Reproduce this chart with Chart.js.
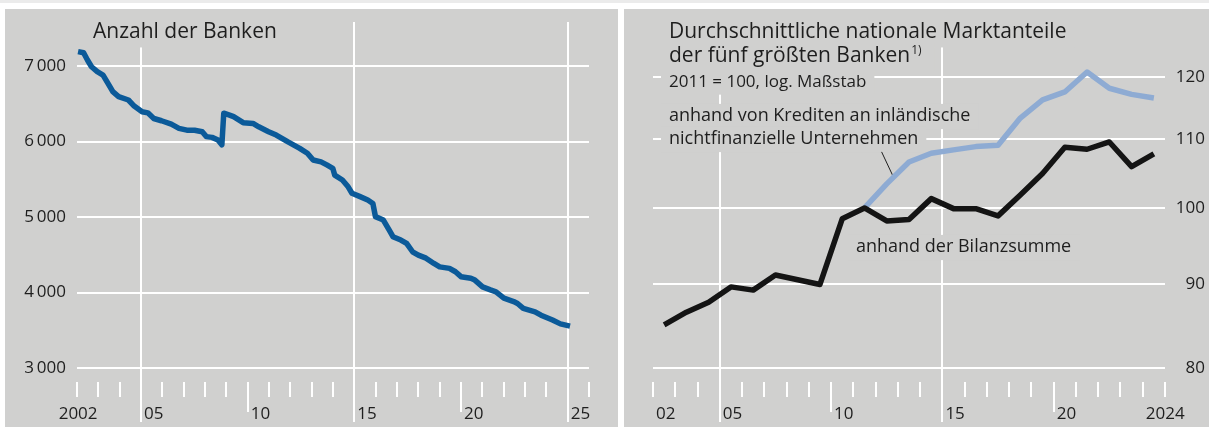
<!DOCTYPE html>
<html>
<head>
<meta charset="utf-8">
<script src="https://cdn.jsdelivr.net/npm/chart.js@4.4.1/dist/chart.umd.min.js"></script>
<style>
  body { margin: 0; background: #fff; width: 1209px; height: 427px; position: relative; overflow: hidden; }
  #strip { position: absolute; left: 0; top: 0; width: 1209px; height: 3px; background: #ebebeb; }
  .panel { position: absolute; top: 9px; height: 418px; background: #d0d0cf; }
  #panelLeft { left: 5px; width: 613px; }
  #panelRight { left: 624px; width: 585px; }
  canvas { position: absolute; left: 0; top: 0; }
</style>
</head>
<body>
<div id="strip"></div>
<div class="panel" id="panelLeft"><canvas id="chartBanks" width="613" height="418"></canvas></div>
<div class="panel" id="panelRight"><canvas id="chartShares" width="585" height="418"></canvas></div>

<script>
// Anzahl der Banken
const bankYears = [2002.05, 2002.31, 2002.49, 2002.68, 2002.95, 2003.22, 2003.41, 2003.68, 2003.95, 2004.41,
  2004.68, 2005.05, 2005.32, 2005.60, 2005.96, 2006.42, 2006.78, 2007.15, 2007.51, 2007.87,
  2008.06, 2008.33, 2008.61, 2008.79, 2008.88, 2009.15, 2009.34, 2009.79, 2010.25, 2010.52,
  2010.98, 2011.34, 2011.89, 2012.44, 2012.80, 2013.07, 2013.44, 2013.71, 2013.99, 2014.08,
  2014.44, 2014.71, 2014.89, 2015.27, 2015.63, 2015.87, 2015.99, 2016.36, 2016.63, 2016.81,
  2017.18, 2017.45, 2017.73, 2018.00, 2018.36, 2018.73, 2019.00, 2019.46, 2019.74, 2020.00,
  2020.46, 2020.65, 2021.01, 2021.38, 2021.64, 2022.01, 2022.47, 2022.65, 2022.92, 2023.47,
  2023.75, 2024.29, 2024.66, 2025.11];
const bankCounts = [7190, 7175, 7080, 6990, 6925, 6880, 6790, 6660, 6595, 6550,
  6470, 6395, 6380, 6305, 6275, 6230, 6175, 6150, 6150, 6130,
  6065, 6055, 6020, 5955, 6375, 6350, 6330, 6250, 6240, 6195,
  6130, 6085, 5995, 5910, 5845, 5755, 5730, 5690, 5645, 5555,
  5490, 5400, 5315, 5270, 5225, 5180, 5005, 4960, 4830, 4740,
  4695, 4650, 4540, 4495, 4455, 4385, 4340, 4320, 4275, 4210,
  4190, 4165, 4075, 4035, 4010, 3925, 3880, 3855, 3790, 3745,
  3700, 3635, 3585, 3555];

// Achsen linkes Bild
const bankYTicks = [3000, 4000, 5000, 6000, 7000];
const bankLabelAt = [2001, 2005, 2010, 2015, 2020, 2025]; // "2002" sitzt links vom ersten Strich
const bankLabels = ['2002', '05', '10', '15', '20', '25'];
const bankGridYears = [2005, 2015, 2025];
const bankLongTicks = [2010, 2020];

// Marktanteile, 2011 = 100 (Jahreswerte)
const shareYears = [2002, 2003, 2004, 2005, 2006, 2007, 2008, 2009, 2010, 2011, 2012, 2013,
  2014, 2015, 2016, 2017, 2018, 2019, 2020, 2021, 2022, 2023, 2024];
const balanceSheetShare = [85.0, 86.5, 87.7, 89.6, 89.2, 91.1, 90.5, 89.9, 98.5, 100, 98.2, 98.4,
  101.3, 99.9, 99.9, 98.9, 101.8, 104.9, 108.8, 108.5, 109.6, 105.9, 107.8];
const loanYears = [2011, 2012, 2013, 2014, 2015, 2016, 2017, 2018, 2019, 2020, 2021, 2022, 2023, 2024];
const loanShare = [100, 103.4, 106.6, 107.9, 108.4, 108.9, 109.1, 113.3, 116.2, 117.5, 120.8, 118.1, 117.1, 116.5];

// Achsen rechtes Bild
const shareYTicks = [80, 90, 100, 110, 120];
const shareLabelAt = [2002, 2005, 2010, 2015, 2020, 2024];
const shareLabels = ['02', '05', '10', '15', '20', '2024'];
const shareGridYears = [2005, 2015];
const shareLongTicks = [2010, 2020];

const PANEL = '#d0d0cf';
const TEXT = '#1e1e1e';
const FONT = "'Open Sans', sans-serif";

Chart.defaults.font.family = FONT;
Chart.defaults.color = TEXT;

const range = (a, b) => { const r = []; for (let i = a; i <= b; i++) r.push(i); return r; };
const fmtThousands = v => String(v).replace(/\B(?=(\d{3})+(?!\d))/g, '\u2009');

function xAxis(min, max, tickYears, labelAt, labels, gridYears, longTicks) {
  const val = c => (c.tick ? c.tick.value : null);
  return {
    type: 'linear',
    min, max,
    afterBuildTicks: s => { s.ticks = tickYears.map(v => ({ value: v })); },
    afterFit: s => { s.height = 45; s.paddingLeft = 0; s.paddingRight = 0; },
    border: { display: false },
    grid: {
      lineWidth: 2,
      tickWidth: 2,
      tickLength: 40,
      color: c => gridYears.includes(val(c)) ? '#fff' : 'rgba(0,0,0,0)',
      tickColor: c => val(c) < min ? 'rgba(0,0,0,0)' : '#fff',
      tickBorderDash: c => gridYears.includes(val(c)) ? [] : (longTicks.includes(val(c)) ? [30, 60] : [15, 60])
    },
    ticks: {
      autoSkip: false,
      maxRotation: 0,
      minRotation: 0,
      align: 'start',
      labelOffset: 3,
      padding: -18,
      font: { size: 17 },
      callback: v => { const i = labelAt.indexOf(v); return i < 0 ? '' : labels[i]; }
    }
  };
}

// Texte mit Hintergrund in Panelfarbe (verdeckt Gitterlinien)
function notesPlugin(notes, extra) {
  return {
    id: 'notes',
    beforeDatasetsDraw(chart) {
      const c = chart.ctx;
      c.save();
      c.textBaseline = 'alphabetic';
      notes.forEach(n => {
        c.font = n.size + 'px ' + FONT;
        let w = c.measureText(n.text).width;
        if (n.sup) w += 16;
        c.fillStyle = PANEL;
        c.fillRect(n.x - 8, n.y - n.size * 0.95, w + 16, n.size * 1.4);
      });
      c.fillStyle = TEXT;
      notes.forEach(n => {
        c.font = n.size + 'px ' + FONT;
        c.fillText(n.text, n.x, n.y);
        if (n.sup) {
          const w = c.measureText(n.text).width;
          c.font = '12px ' + FONT;
          c.fillText(n.sup, n.x + w + 1, n.y - 8);
        }
      });
      if (extra) extra(chart);
      c.restore();
    }
  };
}

new Chart(document.getElementById('chartBanks'), {
  type: 'line',
  data: {
    datasets: [{
      label: 'Anzahl der Banken',
      data: bankYears.map((y, i) => ({ x: y, y: bankCounts[i] })),
      borderColor: '#0b5a99',
      borderWidth: 5.5,
      borderJoinStyle: 'round',
      pointRadius: 0,
      tension: 0
    }]
  },
  options: {
    responsive: false,
    animation: false,
    devicePixelRatio: 1,
    layout: { padding: { left: 0, top: 13, right: 29, bottom: 0 } },
    plugins: { legend: { display: false }, tooltip: { enabled: false } },
    scales: {
      x: xAxis(2002, 2026, [2001].concat(range(2002, 2026)), bankLabelAt, bankLabels, bankGridYears, bankLongTicks),
      y: {
        min: 2815,
        max: 7583,
        afterBuildTicks: s => { s.ticks = bankYTicks.map(v => ({ value: v })); },
        afterFit: s => { s.width = 72; s.paddingTop = 0; s.paddingBottom = 0; },
        border: { display: false },
        grid: { color: '#fff', lineWidth: 2, drawTicks: false },
        ticks: { padding: 11, font: { size: 17 }, callback: v => fmtThousands(v) }
      }
    }
  },
  plugins: [notesPlugin([{ text: 'Anzahl der Banken', x: 88, y: 29, size: 21 }])]
});

// Hinweislinie vom Text zur Kreditlinie
function leader(chart) {
  const xs = chart.scales.x, ys = chart.scales.y, c = chart.ctx;
  c.strokeStyle = TEXT;
  c.lineWidth = 1;
  c.beginPath();
  c.moveTo(xs.getPixelForValue(2012.27), ys.getPixelForValue(108.1));
  c.lineTo(xs.getPixelForValue(2012.77), ys.getPixelForValue(104.6));
  c.stroke();
}

new Chart(document.getElementById('chartShares'), {
  type: 'line',
  data: {
    datasets: [{
      label: 'anhand der Bilanzsumme',
      data: shareYears.map((y, i) => ({ x: y + 0.5, y: balanceSheetShare[i] })),
      borderColor: '#141414',
      borderWidth: 5.5,
      borderJoinStyle: 'round',
      pointRadius: 0,
      tension: 0
    }, {
      label: 'anhand von Krediten an inländische nichtfinanzielle Unternehmen',
      data: loanYears.map((y, i) => ({ x: y + 0.5, y: loanShare[i] })),
      borderColor: '#8eabd3',
      borderWidth: 5.5,
      borderJoinStyle: 'round',
      pointRadius: 0,
      tension: 0
    }]
  },
  options: {
    responsive: false,
    animation: false,
    devicePixelRatio: 1,
    layout: { padding: { left: 29, top: 13, right: 4, bottom: 0 } },
    plugins: { legend: { display: false }, tooltip: { enabled: false } },
    scales: {
      x: xAxis(2002, 2025, range(2002, 2025), shareLabelAt, shareLabels, shareGridYears, shareLongTicks),
      y: {
        type: 'logarithmic',
        position: 'right',
        min: 78.5,
        max: 129.5,
        afterBuildTicks: s => { s.ticks = shareYTicks.map(v => ({ value: v })); },
        afterFit: s => { s.width = 40; s.paddingTop = 0; s.paddingBottom = 0; },
        border: { display: false },
        grid: { color: '#fff', lineWidth: 2, drawTicks: false },
        ticks: { padding: 11, crossAlign: 'far', font: { size: 17 }, callback: v => String(v) }
      }
    }
  },
  plugins: [notesPlugin([
    { text: 'Durchschnittliche nationale Marktanteile', x: 45, y: 29, size: 21 },
    { text: 'der fünf größten Banken', x: 45, y: 53, size: 21, sup: '1)' },
    { text: '2011 = 100, log. Maßstab', x: 45, y: 78, size: 17 },
    { text: 'anhand von Krediten an inländische', x: 45, y: 112, size: 18 },
    { text: 'nichtfinanzielle Unternehmen', x: 45, y: 135, size: 18 },
    { text: 'anhand der Bilanzsumme', x: 232, y: 243, size: 18 }
  ], leader)]
});
</script>
</body>
</html>
